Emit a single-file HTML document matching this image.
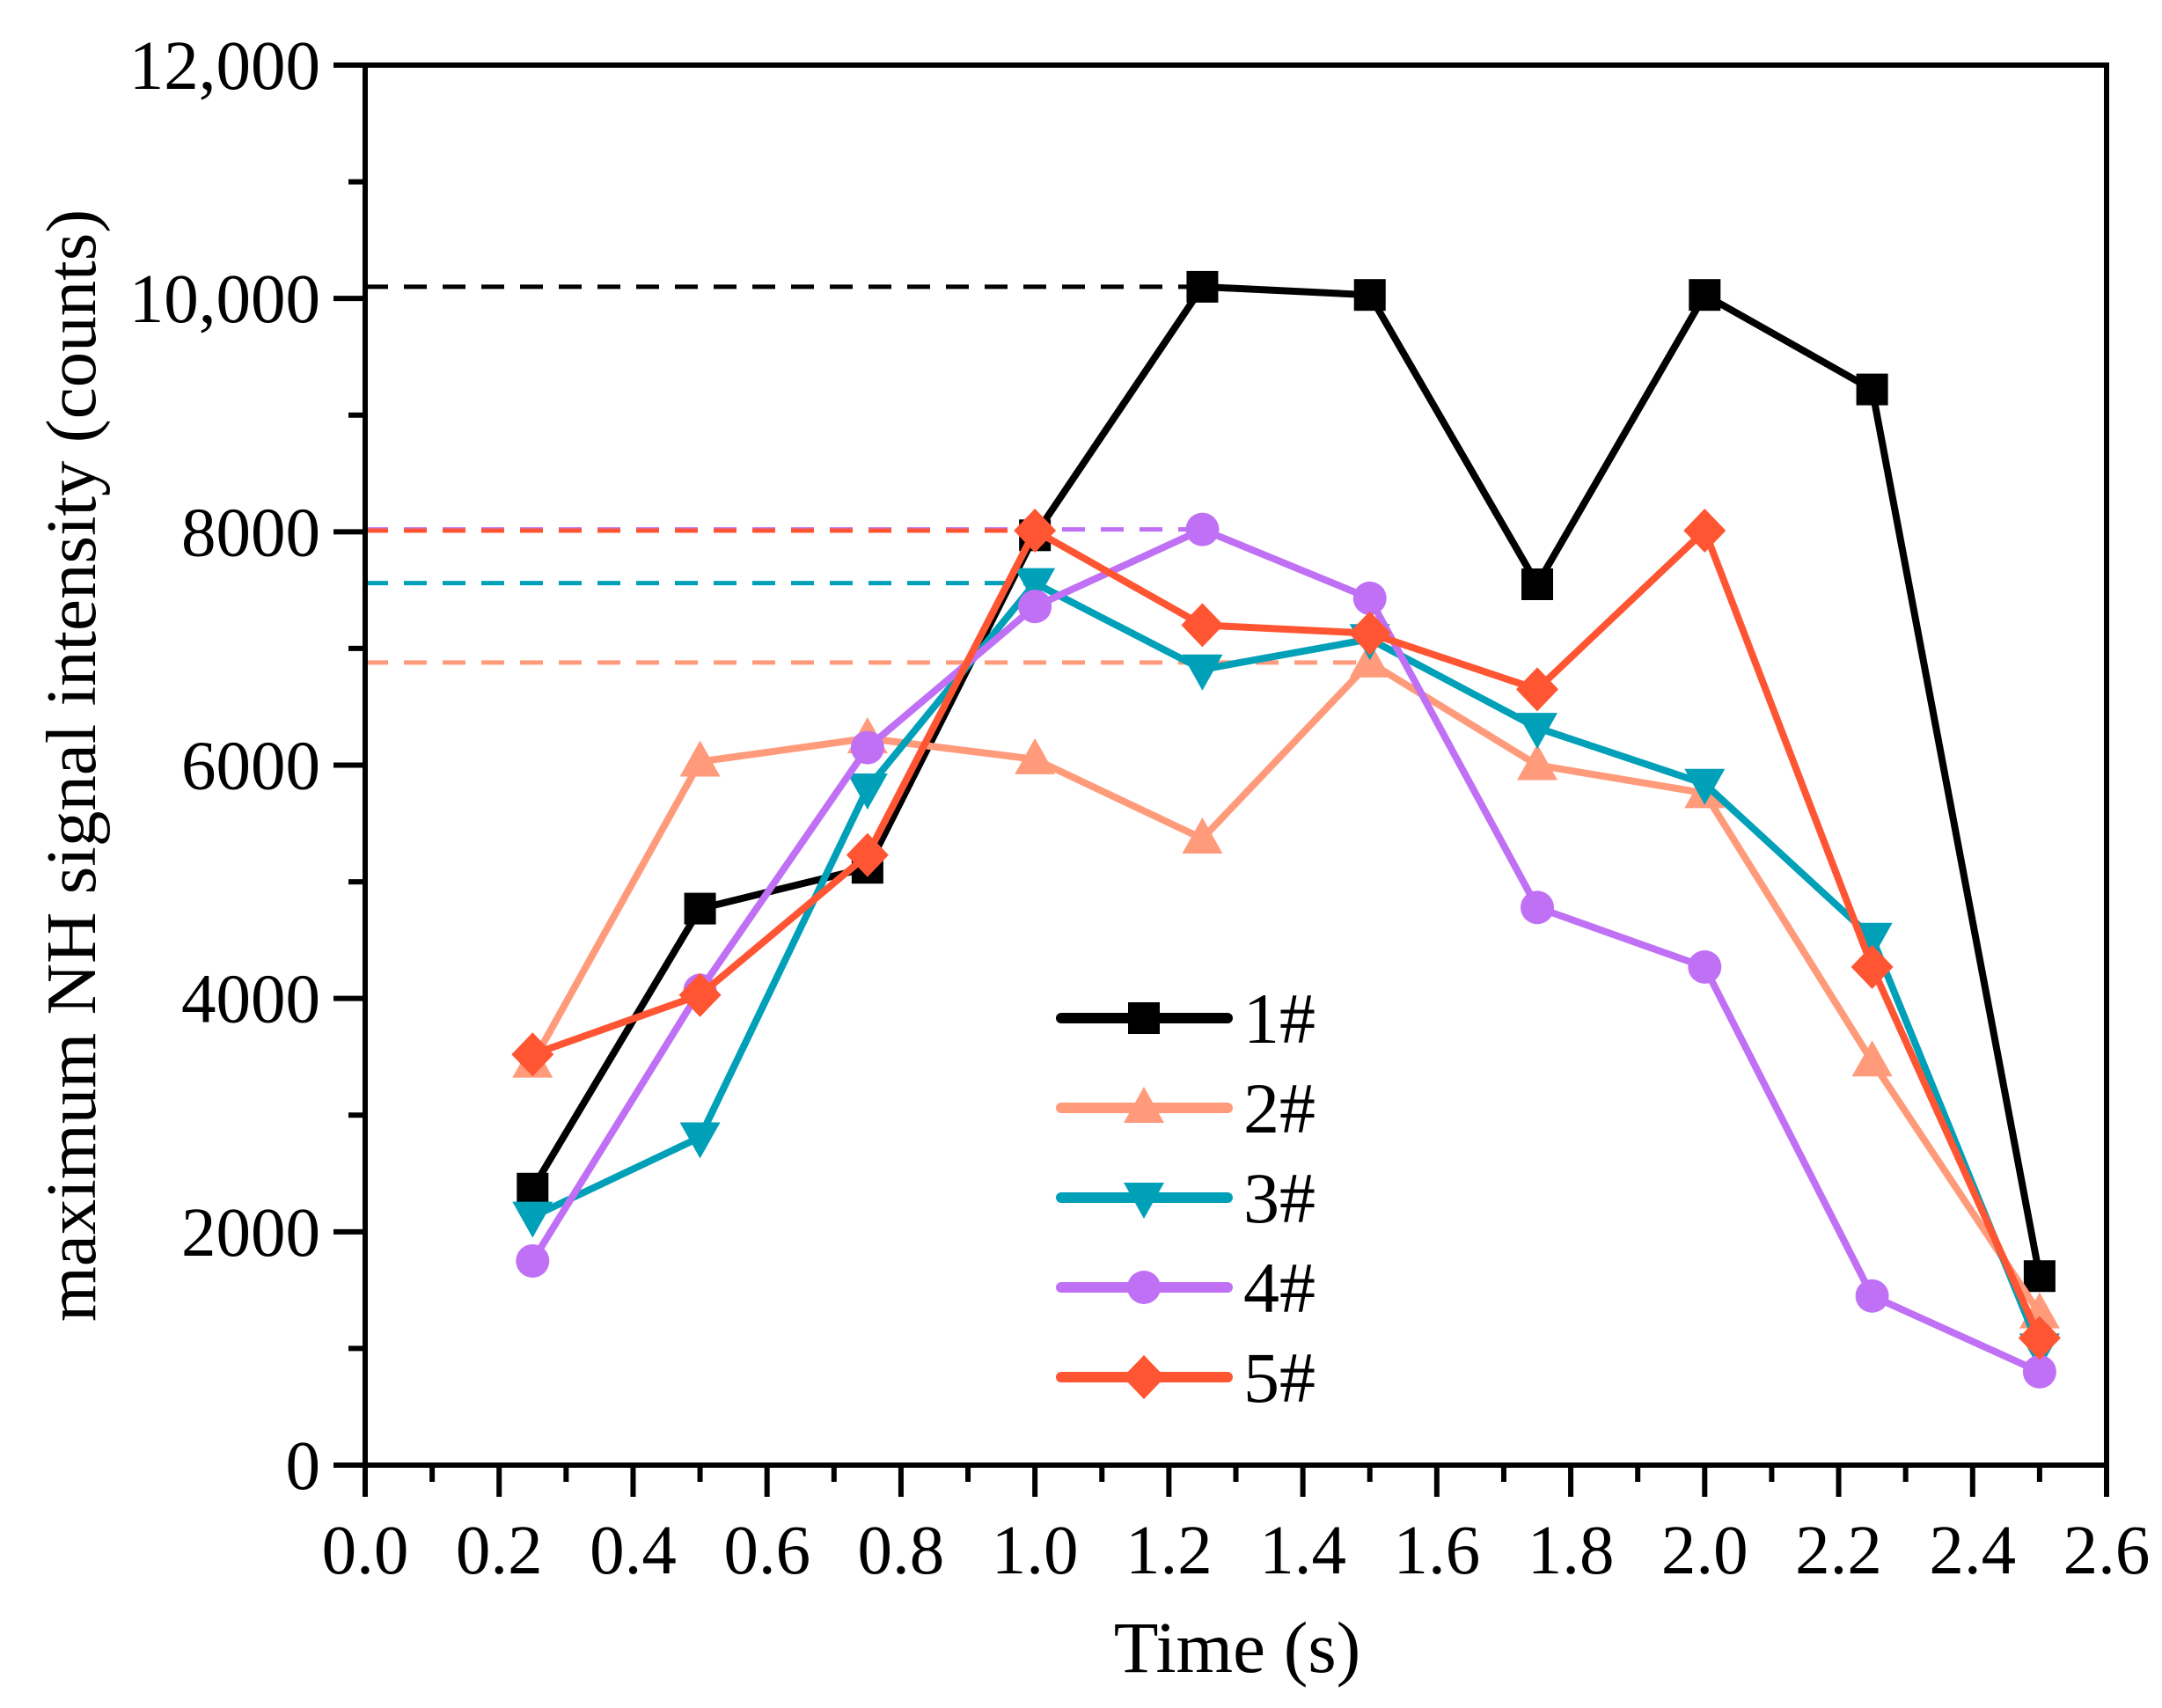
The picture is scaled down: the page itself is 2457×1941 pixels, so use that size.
<!DOCTYPE html>
<html><head><meta charset="utf-8"><style>
html,body{margin:0;padding:0;background:#fff}
svg{display:block}
text{font-family:"Liberation Serif",serif;fill:#000}
</style></head><body>
<svg id="chart" width="2457" height="1941" viewBox="0 0 2457 1941" xmlns="http://www.w3.org/2000/svg">
<g id="grid"></g>
<g id="axes"></g>
<g id="series"></g>
<g id="legend"></g>
<text x="1406" y="1900" font-size="83" text-anchor="middle">Time (s)</text>
<text x="0" y="0" font-size="81" text-anchor="middle" transform="translate(108,870) rotate(-90)">maximum NH signal intensity (counts)</text>
</svg>
<script>
const times = [0.25,0.5,0.75,1.0,1.25,1.5,1.75,2.0,2.25,2.5];
const s1 = [2370,4770,5120,7970,10100,10030,7550,10030,9220,1620];
const s2 = [3450,6030,6230,6050,5370,6880,6000,5760,3460,1300];
const s3 = [2130,2810,5800,7560,6820,7080,6320,5840,4520,1000];
const s4 = [1750,4070,6150,7360,8020,7430,4780,4270,1450,800];
const s5 = [3520,4030,5230,8010,7200,7130,6650,8010,4270,1090];
const seriesNames = ["1#","2#","3#","4#","5#"];
const refValues = [10100,8020,8010,7560,6880];
const refEnds = [1.25,1.25,1.0,1.0,1.5];
const xTicks = ["0.0","0.2","0.4","0.6","0.8","1.0","1.2","1.4","1.6","1.8","2.0","2.2","2.4","2.6"];
const yTicks = ["0","2000","4000","6000","8000","10,000","12,000"];

const NS="http://www.w3.org/2000/svg";
const L=415,R=2394,T=74,B=1665;
function xs(v){return L+(v/2.6)*(R-L);}
function ys(v){return B-(v/12000)*(B-T);}
function mk(tag,attrs,parent){const e=document.createElementNS(NS,tag);for(const k in attrs)e.setAttribute(k,attrs[k]);parent.appendChild(e);return e;}
const colors=["#000000","#FF9A7A","#00A0B8","#C070F5","#FF5533"];
const markers=["square","tri-up","tri-down","circle","diamond"];
const data=[s1,s2,s3,s4,s5];
const refColors=["#000000","#C070F5","#FF5533","#00A0B8","#FF9A7A"];

const grid=document.getElementById('grid');
refValues.forEach((v,i)=>{
  const l=mk('line',{x1:L,x2:xs(refEnds[i]),y1:ys(v),y2:ys(v),stroke:refColors[i],'stroke-width':5,'stroke-dasharray':'26,18'},grid);
  
  
});

const axes=document.getElementById('axes');
const frame=mk('rect',{x:L,y:T,width:R-L,height:B-T,fill:'none',stroke:'#000','stroke-width':6},axes);


for(let i=0;i<=26;i++){
  const v=i*0.1,x=xs(v),major=i%2===0;
  mk('line',{x1:x,x2:x,y1:B,y2:B+(major?36:19),stroke:'#000','stroke-width':6},axes);
}
xTicks.forEach((t,i)=>{
  const tx=mk('text',{x:xs(i*0.2),y:1788,'font-size':79,'text-anchor':'middle'},axes);
  tx.textContent=t;
  
  
});
for(let i=0;i<=12;i++){
  const y=ys(i*1000),major=i%2===0;
  mk('line',{x1:L-(major?36:19),x2:L,y1:y,y2:y,stroke:'#000','stroke-width':6},axes);
}
yTicks.forEach((t,i)=>{
  const tx=mk('text',{x:364,y:ys(i*2000)+27,'font-size':79,'text-anchor':'end'},axes);
  tx.textContent=t;
  
  
});

function marker(type,x,y,c,parent){
  let e;
  if(type==='square')e=mk('rect',{x:x-18,y:y-18,width:36,height:36,fill:c},parent);
  else if(type==='circle')e=mk('circle',{cx:x,cy:y,r:19,fill:c},parent);
  else if(type==='tri-up')e=mk('polygon',{points:`${x},${y-24} ${x+23},${y+17} ${x-23},${y+17}`,fill:c},parent);
  else if(type==='tri-down')e=mk('polygon',{points:`${x},${y+24} ${x+23},${y-17} ${x-23},${y-17}`,fill:c},parent);
  else e=mk('polygon',{points:`${x},${y-25} ${x+24},${y} ${x},${y+25} ${x-24},${y}`,fill:c},parent);
  return e;
}
const sg=document.getElementById('series');
data.forEach((arr,si)=>{
  const g=mk('g',{},sg);
  
  
  const pts=arr.map((v,i)=>xs(times[i])+','+ys(v)).join(' ');
  const pl=mk('polyline',{points:pts,fill:'none',stroke:colors[si],'stroke-width':8,'stroke-linejoin':'round'},g);
  
  
  arr.forEach((v,i)=>{
    const m=marker(markers[si],xs(times[i]),ys(v),colors[si],g);
    
    
  });
});

const lg=document.getElementById('legend');
seriesNames.forEach((n,i)=>{
  const y=1157+i*102;
  const g=mk('g',{},lg);
  
  
  mk('line',{x1:1206,x2:1395,y1:y,y2:y,stroke:colors[i],'stroke-width':12,'stroke-linecap':'round'},g);
  marker(markers[i],1300,y,colors[i],g);
  const t=mk('text',{x:1413,y:y+28,'font-size':82},g);
  t.textContent=n;
});
</script>
</body></html>
